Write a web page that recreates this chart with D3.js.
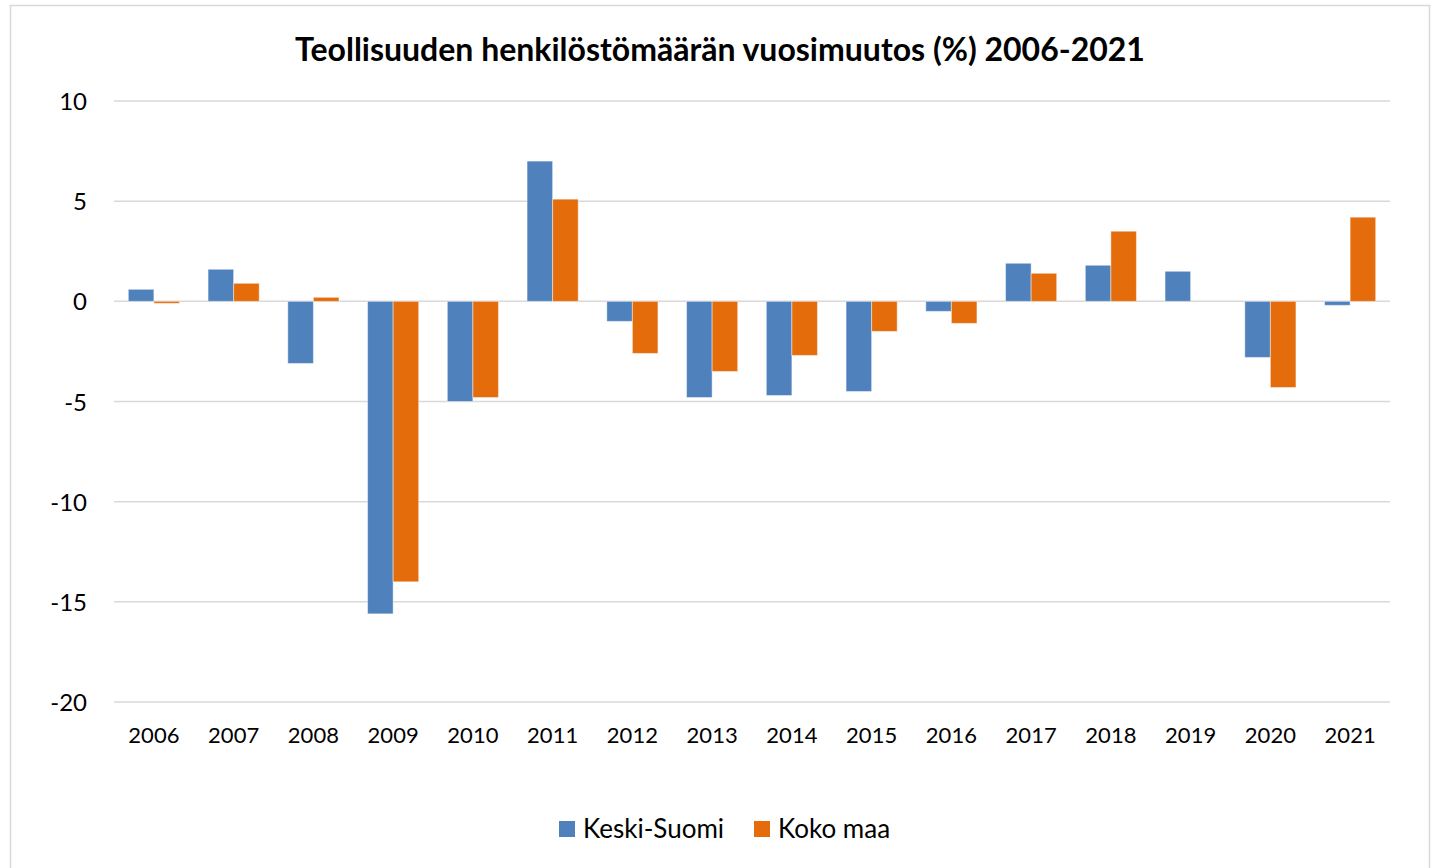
<!DOCTYPE html>
<html>
<head>
<meta charset="utf-8">
<script src="https://cdn.jsdelivr.net/npm/d3@7"></script>
<style>
  html, body { margin: 0; padding: 0; background: #fff; }
  svg { display: block; }
  text { font-family: Lato, "Liberation Sans", sans-serif; fill: #000; }
</style>
</head>
<body>
<svg id="chart" width="1440" height="868"></svg>
<script>
const years = ["2006","2007","2008","2009","2010","2011","2012","2013","2014","2015","2016","2017","2018","2019","2020","2021"];
const keskiSuomi = [0.6, 1.6, -3.1, -15.6, -5.0, 7.0, -1.0, -4.8, -4.7, -4.5, -0.5, 1.9, 1.8, 1.5, -2.8, -0.2];
const kokoMaa = [-0.1, 0.9, 0.2, -14.0, -4.8, 5.1, -2.6, -3.5, -2.7, -1.5, -1.1, 1.4, 3.5, 0.0, -4.3, 4.2];
const seriesNames = ["Keski-Suomi", "Koko maa"];
const seriesColors = ["#4f81bd", "#e46c0a"];
const yTicks = [10, 5, 0, -5, -10, -15, -20];
const title = "Teollisuuden henkilöstömäärän vuosimuutos (%) 2006-2021";

const svg = d3.select("#chart");

// outer frame
svg.append("rect").attr("x", 10.5).attr("y", 5.5).attr("width", 1419).attr("height", 880)
  .attr("fill", "none").attr("stroke", "#d9d9d9").attr("stroke-width", 1.5);

const plot = { left: 114, right: 1390, top: 101, bottom: 702 };

const x = d3.scaleBand().domain(years).range([plot.left, plot.right]).paddingInner(0).paddingOuter(0);
const x1 = d3.scaleBand().domain(seriesNames).range([0, x.bandwidth()]).paddingInner(0).paddingOuter(0.56);
const y = d3.scaleLinear().domain([-20, 10]).range([plot.bottom, plot.top]);

// gridlines
svg.append("g").selectAll("line").data(yTicks).join("line")
  .attr("x1", plot.left).attr("x2", plot.right)
  .attr("y1", d => y(d)).attr("y2", d => y(d))
  .attr("stroke", "#d9d9d9").attr("stroke-width", 1.5);

// y axis labels
const yAxis = d3.axisLeft(y).tickValues(yTicks).tickSize(0).tickPadding(0).tickFormat(d => String(d));
const gy = svg.append("g").attr("transform", `translate(${plot.left - 27},0)`).call(yAxis);
gy.select(".domain").remove();
gy.selectAll("text").attr("font-size", 24).attr("font-family", "Lato, sans-serif").attr("fill", "#000").attr("dy", "0.36em");

// x axis labels
const xAxis = d3.axisBottom(x).tickSize(0).tickPadding(0);
const gx = svg.append("g").attr("transform", `translate(0,${plot.bottom + 28})`).call(xAxis);
gx.select(".domain").remove();
gx.selectAll("text").attr("font-size", 22).attr("font-family", "Lato, sans-serif").attr("fill", "#000").attr("dy", "0.6em");

// bars
const data = years.map((yr, i) => ({ yr, vals: [keskiSuomi[i], kokoMaa[i]] }));
const groups = svg.append("g").selectAll("g").data(data).join("g")
  .attr("transform", d => `translate(${x(d.yr)},0)`);
groups.selectAll("rect").data(d => d.vals.map((v, j) => ({ v, s: seriesNames[j], c: seriesColors[j] })))
  .join("rect")
  .attr("x", d => x1(d.s))
  .attr("width", x1.bandwidth())
  .attr("y", d => Math.min(y(d.v), y(0)))
  .attr("height", d => Math.abs(y(d.v) - y(0)))
  .attr("fill", d => d.c)
  .attr("stroke", "rgba(255,255,255,0.45)")
  .attr("stroke-width", 1);

// title
svg.append("text").attr("x", 720).attr("y", 61).attr("text-anchor", "middle")
  .attr("font-size", 32).attr("font-weight", "bold").text(title);

// legend
const legend = [
  { name: seriesNames[0], color: seriesColors[0], x: 559 },
  { name: seriesNames[1], color: seriesColors[1], x: 754 }
];
const lg = svg.append("g").selectAll("g").data(legend).join("g")
  .attr("transform", d => `translate(${d.x},821)`);
lg.append("rect").attr("width", 16).attr("height", 16).attr("fill", d => d.color);
lg.append("text").attr("x", 24).attr("y", 8).attr("dy", "0.36em")
  .attr("font-size", 26).text(d => d.name);
</script>
</body>
</html>
